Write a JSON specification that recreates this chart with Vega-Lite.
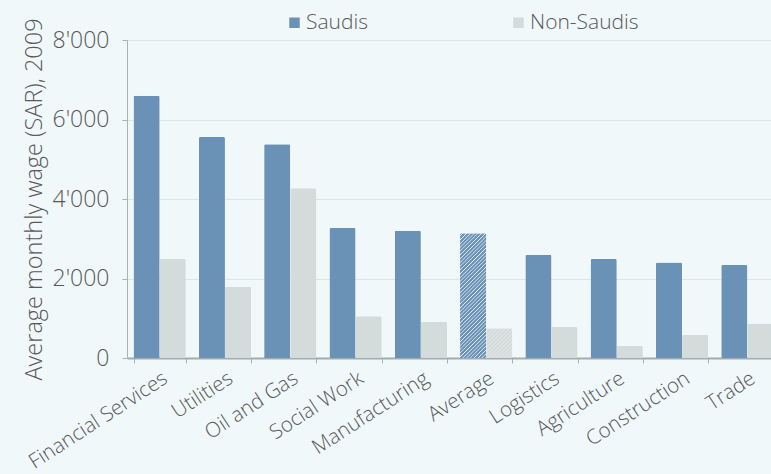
{
  "$schema": "https://vega.github.io/schema/vega-lite/v6.json",
  "width": 644,
  "height": 318,
  "autosize": {"type": "none"},
  "padding": {"left": 127, "top": 40, "right": 0, "bottom": 116},
  "background": "#f0f8fa",
  "config": {
    "locale": {"number": {"decimal": ".", "thousands": "'", "grouping": [3], "currency": ["", ""]}},
    "view": {"stroke": null},
    "font": "Open Sans"
  },
  "data": {
    "values": [
      {"sector": "Financial Services", "group": "Saudis", "wage": 6600},
      {"sector": "Financial Services", "group": "Non-Saudis", "wage": 2500},
      {"sector": "Utilities", "group": "Saudis", "wage": 5560},
      {"sector": "Utilities", "group": "Non-Saudis", "wage": 1790},
      {"sector": "Oil and Gas", "group": "Saudis", "wage": 5380},
      {"sector": "Oil and Gas", "group": "Non-Saudis", "wage": 4270},
      {"sector": "Social Work", "group": "Saudis", "wage": 3270},
      {"sector": "Social Work", "group": "Non-Saudis", "wage": 1050},
      {"sector": "Manufacturing", "group": "Saudis", "wage": 3200},
      {"sector": "Manufacturing", "group": "Non-Saudis", "wage": 910},
      {"sector": "Average", "group": "Saudis", "wage": 3140},
      {"sector": "Average", "group": "Non-Saudis", "wage": 750},
      {"sector": "Logistics", "group": "Saudis", "wage": 2600},
      {"sector": "Logistics", "group": "Non-Saudis", "wage": 780},
      {"sector": "Agriculture", "group": "Saudis", "wage": 2490},
      {"sector": "Agriculture", "group": "Non-Saudis", "wage": 300},
      {"sector": "Construction", "group": "Saudis", "wage": 2400},
      {"sector": "Construction", "group": "Non-Saudis", "wage": 580},
      {"sector": "Trade", "group": "Saudis", "wage": 2340},
      {"sector": "Trade", "group": "Non-Saudis", "wage": 870}
    ]
  },
  "mark": {"type": "bar", "cornerRadiusTopLeft": 1.5, "cornerRadiusTopRight": 1.5},
  "encoding": {
    "x": {
      "field": "sector",
      "type": "nominal",
      "sort": null,
      "scale": {"range": [0, 653], "paddingInner": 0.2, "paddingOuter": 0.1},
      "axis": {
        "title": null,
        "labelAngle": -33,
        "labelAlign": "right",
        "labelBaseline": "top",
        "tickBand": "extent",
        "tickSize": 5,
        "labelPadding": 5,
        "labelDx": -3.7,
        "labelDy": -3.5,
        "domainColor": "#a3abae",
        "domainWidth": 2,
        "tickColor": "#a9b1b4",
        "labelFontSize": 20.5,
        "labelFont": "Open Sans",
        "labelFontWeight": 300,
        "labelColor": "#595959",
        "labelLimit": 300
      }
    },
    "xOffset": {
      "field": "group",
      "sort": ["Saudis", "Non-Saudis"],
      "scale": {"paddingInner": 0, "paddingOuter": 0}
    },
    "y": {
      "field": "wage",
      "type": "quantitative",
      "scale": {"domain": [0, 8000]},
      "axis": {
        "title": "Average monthly wage (SAR), 2009",
        "values": [0, 2000, 4000, 6000, 8000],
        "format": ",d",
        "grid": true,
        "gridColor": "#dbe4e7",
        "domainColor": "#a9b1b4",
        "tickColor": "#a9b1b4",
        "tickSize": 5,
        "labelPadding": 13,
        "labelFontSize": 23,
        "labelFont": "Open Sans",
        "labelFontWeight": 300,
        "labelColor": "#595959",
        "titleFontSize": 23.5,
        "titleFont": "Open Sans",
        "titleFontWeight": 300,
        "titleColor": "#595959",
        "titlePadding": 6
      }
    },
    "fill": {
      "field": "group",
      "type": "nominal",
      "scale": {"domain": ["Saudis", "Non-Saudis"], "range": ["#6a92b6", "#d3dbdb"]},
      "legend": {
        "orient": "none",
        "legendX": 157,
        "legendY": -28,
        "direction": "horizontal",
        "title": null,
        "symbolType": "square",
        "symbolSize": 110,
        "symbolStrokeWidth": 0,
        "labelFontSize": 21,
        "labelFont": "Open Sans",
        "labelFontWeight": 300,
        "labelColor": "#595959",
        "labelOffset": 1,
        "columnPadding": 139,
        "padding": 0
      },
      "condition": [
        {
          "test": "datum.sector === 'Average' && datum.group === 'Saudis'",
          "value": {
            "gradient": "linear",
            "x1": 0, "y1": 0, "x2": 0.242, "y2": 1.159,
            "stops": [
              {"offset": 0, "color": "#6a92b6"}, {"offset": 0.014, "color": "#6a92b6"}, {"offset": 0.02, "color": "#f2f7fb"},
              {"offset": 0.025, "color": "#6a92b6"}, {"offset": 0.039, "color": "#6a92b6"}, {"offset": 0.045, "color": "#f2f7fb"},
              {"offset": 0.05, "color": "#6a92b6"}, {"offset": 0.064, "color": "#6a92b6"}, {"offset": 0.07, "color": "#f2f7fb"},
              {"offset": 0.075, "color": "#6a92b6"}, {"offset": 0.089, "color": "#6a92b6"}, {"offset": 0.095, "color": "#f2f7fb"},
              {"offset": 0.1, "color": "#6a92b6"}, {"offset": 0.114, "color": "#6a92b6"}, {"offset": 0.12, "color": "#f2f7fb"},
              {"offset": 0.125, "color": "#6a92b6"}, {"offset": 0.139, "color": "#6a92b6"}, {"offset": 0.145, "color": "#f2f7fb"},
              {"offset": 0.15, "color": "#6a92b6"}, {"offset": 0.164, "color": "#6a92b6"}, {"offset": 0.17, "color": "#f2f7fb"},
              {"offset": 0.175, "color": "#6a92b6"}, {"offset": 0.189, "color": "#6a92b6"}, {"offset": 0.195, "color": "#f2f7fb"},
              {"offset": 0.2, "color": "#6a92b6"}, {"offset": 0.214, "color": "#6a92b6"}, {"offset": 0.22, "color": "#f2f7fb"},
              {"offset": 0.225, "color": "#6a92b6"}, {"offset": 0.239, "color": "#6a92b6"}, {"offset": 0.245, "color": "#f2f7fb"},
              {"offset": 0.25, "color": "#6a92b6"}, {"offset": 0.264, "color": "#6a92b6"}, {"offset": 0.27, "color": "#f2f7fb"},
              {"offset": 0.275, "color": "#6a92b6"}, {"offset": 0.289, "color": "#6a92b6"}, {"offset": 0.295, "color": "#f2f7fb"},
              {"offset": 0.3, "color": "#6a92b6"}, {"offset": 0.314, "color": "#6a92b6"}, {"offset": 0.32, "color": "#f2f7fb"},
              {"offset": 0.325, "color": "#6a92b6"}, {"offset": 0.339, "color": "#6a92b6"}, {"offset": 0.345, "color": "#f2f7fb"},
              {"offset": 0.35, "color": "#6a92b6"}, {"offset": 0.364, "color": "#6a92b6"}, {"offset": 0.37, "color": "#f2f7fb"},
              {"offset": 0.375, "color": "#6a92b6"}, {"offset": 0.389, "color": "#6a92b6"}, {"offset": 0.395, "color": "#f2f7fb"},
              {"offset": 0.4, "color": "#6a92b6"}, {"offset": 0.414, "color": "#6a92b6"}, {"offset": 0.42, "color": "#f2f7fb"},
              {"offset": 0.425, "color": "#6a92b6"}, {"offset": 0.439, "color": "#6a92b6"}, {"offset": 0.445, "color": "#f2f7fb"},
              {"offset": 0.45, "color": "#6a92b6"}, {"offset": 0.464, "color": "#6a92b6"}, {"offset": 0.47, "color": "#f2f7fb"},
              {"offset": 0.475, "color": "#6a92b6"}, {"offset": 0.489, "color": "#6a92b6"}, {"offset": 0.495, "color": "#f2f7fb"},
              {"offset": 0.5, "color": "#6a92b6"}, {"offset": 0.514, "color": "#6a92b6"}, {"offset": 0.52, "color": "#f2f7fb"},
              {"offset": 0.525, "color": "#6a92b6"}, {"offset": 0.539, "color": "#6a92b6"}, {"offset": 0.545, "color": "#f2f7fb"},
              {"offset": 0.55, "color": "#6a92b6"}, {"offset": 0.564, "color": "#6a92b6"}, {"offset": 0.57, "color": "#f2f7fb"},
              {"offset": 0.575, "color": "#6a92b6"}, {"offset": 0.589, "color": "#6a92b6"}, {"offset": 0.595, "color": "#f2f7fb"},
              {"offset": 0.6, "color": "#6a92b6"}, {"offset": 0.614, "color": "#6a92b6"}, {"offset": 0.62, "color": "#f2f7fb"},
              {"offset": 0.625, "color": "#6a92b6"}, {"offset": 0.639, "color": "#6a92b6"}, {"offset": 0.645, "color": "#f2f7fb"},
              {"offset": 0.65, "color": "#6a92b6"}, {"offset": 0.664, "color": "#6a92b6"}, {"offset": 0.67, "color": "#f2f7fb"},
              {"offset": 0.675, "color": "#6a92b6"}, {"offset": 0.689, "color": "#6a92b6"}, {"offset": 0.695, "color": "#f2f7fb"},
              {"offset": 0.7, "color": "#6a92b6"}, {"offset": 0.714, "color": "#6a92b6"}, {"offset": 0.72, "color": "#f2f7fb"},
              {"offset": 0.725, "color": "#6a92b6"}, {"offset": 0.739, "color": "#6a92b6"}, {"offset": 0.745, "color": "#f2f7fb"},
              {"offset": 0.75, "color": "#6a92b6"}, {"offset": 0.764, "color": "#6a92b6"}, {"offset": 0.77, "color": "#f2f7fb"},
              {"offset": 0.775, "color": "#6a92b6"}, {"offset": 0.789, "color": "#6a92b6"}, {"offset": 0.795, "color": "#f2f7fb"},
              {"offset": 0.8, "color": "#6a92b6"}, {"offset": 0.814, "color": "#6a92b6"}, {"offset": 0.82, "color": "#f2f7fb"},
              {"offset": 0.825, "color": "#6a92b6"}, {"offset": 0.839, "color": "#6a92b6"}, {"offset": 0.845, "color": "#f2f7fb"},
              {"offset": 0.85, "color": "#6a92b6"}, {"offset": 0.864, "color": "#6a92b6"}, {"offset": 0.87, "color": "#f2f7fb"},
              {"offset": 0.875, "color": "#6a92b6"}, {"offset": 0.889, "color": "#6a92b6"}, {"offset": 0.895, "color": "#f2f7fb"},
              {"offset": 0.9, "color": "#6a92b6"}, {"offset": 0.914, "color": "#6a92b6"}, {"offset": 0.92, "color": "#f2f7fb"},
              {"offset": 0.925, "color": "#6a92b6"}, {"offset": 0.939, "color": "#6a92b6"}, {"offset": 0.945, "color": "#f2f7fb"},
              {"offset": 0.95, "color": "#6a92b6"}, {"offset": 0.964, "color": "#6a92b6"}, {"offset": 0.97, "color": "#f2f7fb"},
              {"offset": 0.975, "color": "#6a92b6"}, {"offset": 0.989, "color": "#6a92b6"}, {"offset": 0.995, "color": "#f2f7fb"},
              {"offset": 1, "color": "#6a92b6"}
            ]
          }
        },
        {
          "test": "datum.sector === 'Average' && datum.group === 'Non-Saudis'",
          "value": {
            "gradient": "linear",
            "x1": 0, "y1": 0, "x2": 0.926, "y2": 1.064,
            "stops": [
              {"offset": 0, "color": "#d3dbdb"}, {"offset": 0.045, "color": "#d3dbdb"}, {"offset": 0.058, "color": "#f0f4f4"},
              {"offset": 0.0714, "color": "#d3dbdb"}, {"offset": 0.1164, "color": "#d3dbdb"}, {"offset": 0.1294, "color": "#f0f4f4"},
              {"offset": 0.1429, "color": "#d3dbdb"}, {"offset": 0.1879, "color": "#d3dbdb"}, {"offset": 0.2009, "color": "#f0f4f4"},
              {"offset": 0.2143, "color": "#d3dbdb"}, {"offset": 0.2593, "color": "#d3dbdb"}, {"offset": 0.2723, "color": "#f0f4f4"},
              {"offset": 0.2857, "color": "#d3dbdb"}, {"offset": 0.3307, "color": "#d3dbdb"}, {"offset": 0.3437, "color": "#f0f4f4"},
              {"offset": 0.3571, "color": "#d3dbdb"}, {"offset": 0.4021, "color": "#d3dbdb"}, {"offset": 0.4151, "color": "#f0f4f4"},
              {"offset": 0.4286, "color": "#d3dbdb"}, {"offset": 0.4736, "color": "#d3dbdb"}, {"offset": 0.4866, "color": "#f0f4f4"},
              {"offset": 0.5, "color": "#d3dbdb"}, {"offset": 0.545, "color": "#d3dbdb"}, {"offset": 0.558, "color": "#f0f4f4"},
              {"offset": 0.5714, "color": "#d3dbdb"}, {"offset": 0.6164, "color": "#d3dbdb"}, {"offset": 0.6294, "color": "#f0f4f4"},
              {"offset": 0.6429, "color": "#d3dbdb"}, {"offset": 0.6879, "color": "#d3dbdb"}, {"offset": 0.7009, "color": "#f0f4f4"},
              {"offset": 0.7143, "color": "#d3dbdb"}, {"offset": 0.7593, "color": "#d3dbdb"}, {"offset": 0.7723, "color": "#f0f4f4"},
              {"offset": 0.7857, "color": "#d3dbdb"}, {"offset": 0.8307, "color": "#d3dbdb"}, {"offset": 0.8437, "color": "#f0f4f4"},
              {"offset": 0.8571, "color": "#d3dbdb"}, {"offset": 0.9021, "color": "#d3dbdb"}, {"offset": 0.9151, "color": "#f0f4f4"},
              {"offset": 0.9286, "color": "#d3dbdb"}, {"offset": 0.9736, "color": "#d3dbdb"}, {"offset": 0.9866, "color": "#f0f4f4"},
              {"offset": 1, "color": "#d3dbdb"}
            ]
          }
        }
      ]
    }
  }
}
